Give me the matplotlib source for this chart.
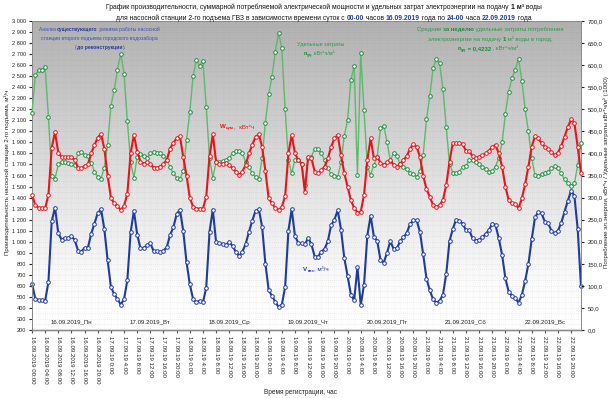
import numpy as np
import matplotlib
matplotlib.use("Agg")
import matplotlib.pyplot as plt
from matplotlib.colors import LinearSegmentedColormap
from matplotlib.ticker import FuncFormatter

plt.rcParams["font.family"] = ["Liberation Sans", "DejaVu Sans"]

# ---------- DATA (hourly, 16.09.2019 00:00 .. 22.09.2019 23:00) ----------
DAYS = ["16.09", "17.09", "18.09", "19.09", "20.09", "21.09", "22.09"]
DAY_LABELS = ["16.09.2019_Пн", "17.09.2019_Вт", "18.09.2019_Ср", "19.09.2019_Чт",
              "20.09.2019_Пт", "21.09.2019_Сб", "22.09.2019_Вс"]

# production V_гвз, m3/h (left axis)
V_GVZ = [
    620, 485, 470, 470, 465, 635, 1185, 1310, 1075, 1020, 1035, 1030, 1050, 1015, 920, 910, 945, 945, 1070, 1165, 1260, 1295, 1115, 835,
    590, 525, 480, 430, 480, 650, 1085, 1280, 1065, 940, 945, 970, 985, 915, 915, 905, 920, 950, 1060, 1130, 1250, 1290, 1100, 815,
    615, 480, 450, 465, 450, 585, 1090, 1290, 995, 985, 980, 970, 1000, 960, 910, 870, 910, 980, 1090, 1190, 1280, 1295, 1135, 800,
    560, 510, 455, 410, 430, 590, 1100, 1295, 1050, 990, 985, 975, 1035, 975, 865, 865, 910, 935, 1005, 1150, 1200, 1285, 1110, 850,
    690, 520, 470, 770, 425, 610, 1055, 1235, 1045, 1010, 835, 810, 900, 1005, 935, 940, 1005, 1040, 1080, 1160, 1195, 1195, 1090, 885,
    665, 560, 478, 448, 465, 520, 708, 1005, 1115, 1200, 1190, 1165, 1105, 1105, 1030, 1010, 1020, 1040, 1070, 1105, 1165, 1150, 1030, 880,
    668, 547, 508, 487, 448, 517, 644, 798, 1021, 1220, 1269, 1257, 1181, 1166, 1100, 1076, 1100, 1172, 1272, 1372, 1462, 1414, 1112, 598,
]
# power W_сум, kWh (right axis)
W_SUM = [
    306, 283, 277, 276, 276, 306, 413, 448, 402, 392, 392, 392, 392, 385, 368, 366, 372, 375, 400, 419, 436, 444, 411, 350,
    300, 287, 281, 272, 281, 309, 400, 442, 404, 381, 377, 381, 375, 368, 368, 370, 377, 385, 411, 424, 434, 439, 392, 350,
    300, 279, 275, 275, 275, 302, 394, 443, 381, 376, 376, 379, 374, 366, 359, 351, 359, 374, 400, 419, 438, 443, 415, 360,
    298, 287, 276, 272, 279, 303, 400, 442, 400, 385, 377, 313, 393, 389, 359, 355, 362, 370, 389, 415, 434, 442, 396, 355,
    325, 294, 276, 266, 268, 306, 385, 434, 389, 393, 379, 374, 381, 385, 374, 370, 377, 385, 394, 411, 421, 415, 393, 349,
    319, 302, 283, 279, 283, 294, 328, 381, 424, 423, 424, 421, 406, 405, 394, 389, 393, 396, 400, 406, 415, 419, 400, 370,
    325, 294, 288, 285, 276, 298, 330, 370, 415, 439, 434, 423, 415, 411, 404, 396, 402, 417, 438, 460, 477, 468, 415, 355,
]
# specific consumption n_уд x1000 (right axis)
N_UD = [
    492, 577, 589, 589, 596, 482, 349, 343, 375, 381, 381, 379, 377, 373, 400, 404, 396, 395, 379, 359, 347, 343, 368, 419,
    508, 543, 590, 626, 581, 474, 380, 345, 392, 398, 395, 390, 400, 403, 402, 400, 395, 385, 370, 355, 345, 342, 360, 430,
    494, 575, 612, 598, 610, 505, 390, 345, 381, 381, 383, 385, 390, 400, 405, 405, 400, 381, 370, 355, 347, 341, 390, 470,
    534, 574, 630, 673, 638, 500, 385, 355, 386, 385, 376, 328, 389, 393, 411, 411, 400, 385, 366, 353, 349, 347, 380, 440,
    476, 566, 598, 351, 627, 498, 370, 351, 374, 391, 457, 462, 426, 383, 402, 394, 375, 370, 365, 355, 354, 347, 360, 397,
    477, 530, 593, 613, 604, 547, 460, 377, 356, 355, 359, 370, 371, 385, 385, 381, 376, 370, 364, 359, 361, 370, 390, 425,
    490, 540, 570, 590, 615, 565, 500, 450, 390, 351, 349, 353, 355, 359, 366, 371, 366, 355, 341, 332, 326, 332, 374, 423,
]

X_LABELS = ["16.09.2019 %02d:00" % h for h in range(0, 24, 4)] + \
           ["%s.19 %d:00" % (d, h) for d in DAYS[1:] for h in range(0, 24, 4)]

# ---------- COLORS ----------
C_BLUE = "#1f3b9b"
C_RED = "#e8141c"
C_GREEN_L = "#5db96b"
C_GREEN_M = "#1d8a3b"
C_TXT_BLUE = "#3b50b8"
C_TXT_GREEN = "#2f9a46"

W, H = 612, 398
fig = plt.figure(figsize=(W / 100, H / 100), dpi=100)
fig.patch.set_facecolor("white")


def fx(px):
    return px / W


def fy(py):
    return 1 - py / H


ax = fig.add_axes([fx(32), fy(330), fx(581) - fx(32), fy(21) - fy(330)])
ax2 = ax.twinx()

# gradient plot background
cmap = LinearSegmentedColormap.from_list("bg", [(0, "#b0b0b0"), (0.55, "#e4e4e4"), (0.85, "#fbfbfb"), (1, "#ffffff")])
ax.imshow(np.linspace(0, 1, 256).reshape(-1, 1), cmap=cmap, aspect="auto",
          extent=[0, 1, 0, 1], transform=ax.transAxes, zorder=0)

hours = np.arange(len(V_GVZ))
ax.set_xlim(0, len(V_GVZ) - 1)
ax.set_ylim(200, 3000)
ax2.set_ylim(0, 700)

# dotted background pattern
for v in range(250, 3000, 50):
    ax.axhline(v, color="#8c8c8c", lw=0.5, ls=(0, (0.5, 2.5)), alpha=0.45, zorder=1)
for h in range(0, 168, 2):
    ax.axvline(h, color="#8c8c8c", lw=0.5, ls=(0, (0.5, 2.5)), alpha=0.3, zorder=1)

ax.plot(hours, V_GVZ, color=C_BLUE, lw=1.5, marker="o", ms=2.6, mfc="white",
        mec=C_BLUE, mew=0.7, zorder=3, clip_on=False)
ax2.plot(hours, N_UD, color=C_GREEN_L, lw=1.0, marker="o", ms=2.6, mfc="white",
         mec=C_GREEN_M, mew=0.7, zorder=3, clip_on=False)
ax2.plot(hours, W_SUM, color=C_RED, lw=1.5, marker="o", ms=2.6, mfc="white",
         mec=C_RED, mew=0.7, zorder=4, clip_on=False)

# axes / ticks
ax.set_xticks(range(0, 168, 4))
ax.set_xticklabels(X_LABELS, rotation=270, fontsize=4.4, color="#222222")
ax.tick_params(axis="x", length=2, pad=2, color="#555555")
ax.set_yticks(range(200, 3001, 100))
ax.yaxis.set_major_formatter(FuncFormatter(lambda v, p: f"{v:,.0f}".replace(",", " ")))
ax.tick_params(axis="y", labelsize=4.1, length=2, pad=2, colors="#222222")
ax2.set_yticks(range(0, 701, 50))
ax2.yaxis.set_major_formatter(FuncFormatter(lambda v, p: f"{v:.1f}".replace(".", ",")))
ax2.tick_params(axis="y", labelsize=4.3, length=2, pad=3, colors="#222222")

for a in (ax, ax2):
    for s in a.spines.values():
        s.set_color("#8a8a8a")
        s.set_linewidth(0.7)
ax.spines["left"].set_color("#505050")
ax.spines["bottom"].set_color("#505050")
ax.spines["bottom"].set_linewidth(1.0)

for i, lbl in enumerate(DAY_LABELS):
    ax.text(12 + 24 * i, 272, lbl, ha="center", va="center", fontsize=4.4, color="#222222", zorder=5)

fig.text(fx(7), fy(172), "Производительность насосной станции 2-го подъема, м³/ч",
         rotation=90, ha="center", va="center", fontsize=4.4, color="#222222")
fig.text(fx(606), fy(172), "Потребление эл.энергии, кВт*ч / Удельные затраты кВт*ч/м³ (:1000)",
         rotation=90, ha="center", va="center", fontsize=4.4, color="#222222")
fig.text(fx(301), fy(392), "Время регистрации, час", ha="center", va="center",
         fontsize=4.7, color="#222222")

# ---------- rich text helper ----------
renderer = fig.canvas.get_renderer()


def text_width(s, size, weight):
    t1 = fig.text(0, 0, "|" + s + "|", fontsize=size, fontweight=weight)
    t2 = fig.text(0, 0, "||", fontsize=size, fontweight=weight)
    w = t1.get_window_extent(renderer).width - t2.get_window_extent(renderer).width
    t1.remove()
    t2.remove()
    return w


def rich(xc, yc, parts, size):
    # parts: (text, color, bold[, size, dy_px])
    items = []
    for p in parts:
        s, c, b = p[0], p[1], p[2]
        sz = p[3] if len(p) > 3 else size
        dy = p[4] if len(p) > 4 else 0
        wt = "bold" if b else "normal"
        items.append((s, c, wt, sz, dy, text_width(s, sz, wt)))
    x = xc - sum(it[5] for it in items) / 2
    base = yc + 0.36 * size * 100 / 72
    for s, c, wt, sz, dy, w in items:
        fig.text(fx(x), fy(base + dy), s, color=c, fontsize=sz, fontweight=wt,
                 ha="left", va="baseline")
        x += w


# title
rich(324, 7, [("График производительности, суммарной потребляемой электрической мощности и удельных затрат электроэнергии на подачу ", "#111111", False),
              ("1 м³", "#111111", True), (" воды", "#111111", False)], 4.85)
rich(324, 18, [("для насосной станции 2-го подъема ГВЗ в зависимости времени суток с ", "#111111", False),
               ("00-00", C_BLUE, True), (" часов ", "#111111", False),
               ("16.09.2019", C_BLUE, True), (" года по ", "#111111", False),
               ("24-00", C_BLUE, True), (" часа ", "#111111", False),
               ("22.09.2019", C_BLUE, True), (" года", "#111111", False)], 4.85)

# left blue note
rich(99, 29, [("Анализ ", C_TXT_BLUE, False), ("существующего", "#23389e", True),
              (" режима работы насосной", C_TXT_BLUE, False)], 3.6)
rich(99, 38, [("станции второго подъема городского водозабора", C_TXT_BLUE, False)], 3.6)
rich(100, 47, [("(", C_TXT_BLUE, False), ("до реконструкции", "#23389e", True),
               (").", C_TXT_BLUE, False)], 3.6)

# middle green note
rich(321, 44, [("Удельные затраты", C_TXT_GREEN, False)], 4.0)
rich(319, 53, [("n", C_GREEN_M, True), ("уд", C_GREEN_M, True, 3.0, 1.2),
               (", кВт*ч/м³", C_TXT_GREEN, False)], 4.0)

# right green note
rich(490, 29, [("Средние ", C_TXT_GREEN, False), ("за неделю", C_GREEN_M, True),
               (" удельные затраты потребления", C_TXT_GREEN, False)], 4.3)
rich(490, 39, [("электроэнергии на подачу ", C_TXT_GREEN, False), ("1", C_GREEN_M, True),
               (" м³ воды в город,", C_TXT_GREEN, False)], 4.3)
rich(488, 48, [("n", C_GREEN_M, True), ("уд", C_GREEN_M, True, 3.1, 1.2),
               (" = 0,4232", C_GREEN_M, True), (" , кВт*ч/м³", C_TXT_GREEN, False)], 4.3)

# series names
rich(237, 126, [("W", C_RED, True), ("сум", C_RED, True, 3.2, 1.2), (",  кВт*ч", C_RED, False)], 4.4)
rich(316, 269, [("V", C_BLUE, True), ("гвз", C_BLUE, True, 3.2, 1.2), (", м³/ч", C_BLUE, False)], 4.4)

fig.savefig("out.png", dpi=100)
